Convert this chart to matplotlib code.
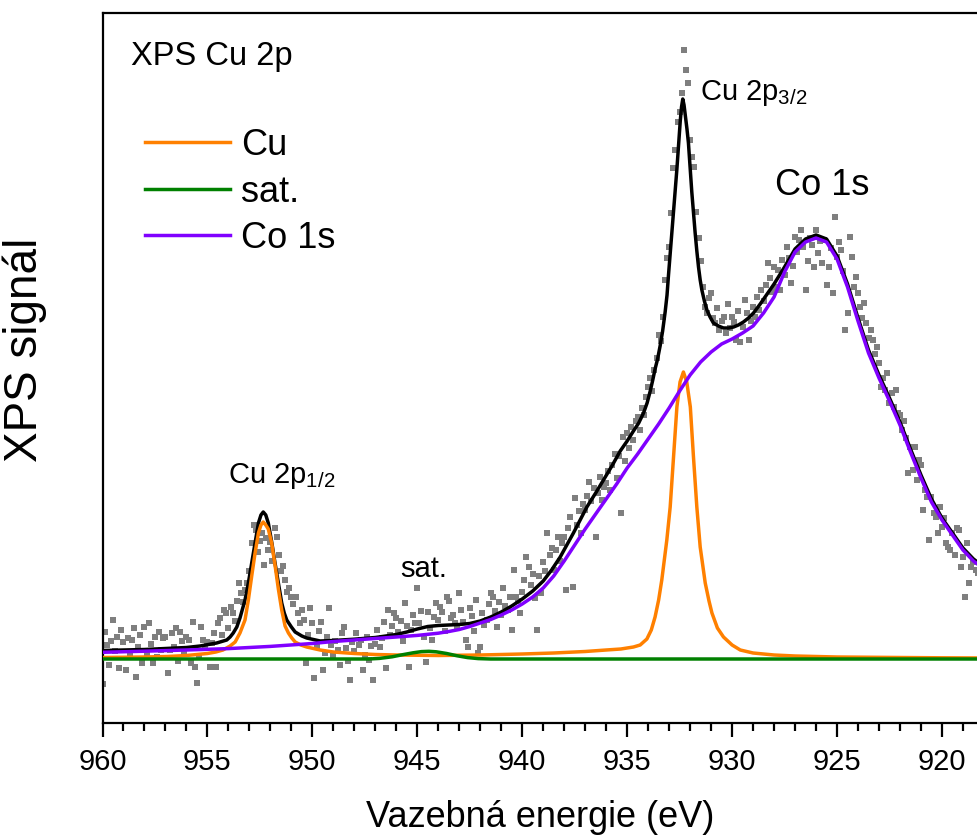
#!/usr/bin/env python3
"""
XPS Cu 2p spectrum with fitted components (Cu, sat., Co 1s) and envelope.
Saves out.png (977x838).
"""

import numpy as np
import matplotlib
matplotlib.use('Agg')
import matplotlib.pyplot as plt
from matplotlib.ticker import MultipleLocator

plt.rcParams['font.family'] = ['Liberation Sans', 'DejaVu Sans']
plt.rcParams['mathtext.fontset'] = 'custom'
plt.rcParams['mathtext.rm'] = 'Liberation Sans'
plt.rcParams['mathtext.it'] = 'Liberation Sans:italic'
plt.rcParams['mathtext.default'] = 'regular'

# ── measured points: 0.1 eV step, from 960.0 eV downwards ─────────────
E_START = 960.0
E_STEP = 0.1
counts = [
    -25, 27, 14, -6, 18, 39, 8, 22, -9, 29,            # 960
    17, -11, 21, 3, 19, 31, -18, 12, 24, -4,            # 959
    32, 6, 36, 15, -4, 22, 2, 27, 9, 21,                # 958
    22, -14, 9, 26, 12, 31, -2, 27, 18, 5,              # 957
    22, 19, -4, 37, -8, -24, 2, 32, 19, 12,             # 956
    17, -8, 16, 26, -8, 36, 41, 24, 49, 46,             # 955
    31, 52, 46, 38, 58, 76, 66, 57, 69, 76,             # 954
    88, 116, 134, 129, 107, 118, 126, 94, 121, 109,     # 953
    117, 98, 131, 122, 104, 88, 93, 79, 67, 71,         # 952
    62, 55, 62, 46, 36, 49, 39, -4, 24, 51,             # 951
    36, -19, 12, 28, 37, -11, 6, 22, 51, 14,            # 950
    3, 18, 9, -6, 26, 32, 11, -2, -21, 17,              # 949
    8, 26, 14, 19, -11, 4, 22, -1, 13, -21,             # 948
    15, 29, 12, 21, 37, -9, 49, 24, 33, 46,             # 947
    41, 27, 38, 18, 56, 33, -8, 29, 44, 36,             # 946
    71, 36, 48, 22, -3, 47, 31, 19, 42, 56,             # 945
    39, 52, 47, 28, 62, 58, 41, 44, 36, 32,             # 944
    66, 49, 37, 19, 12, 51, 43, 28, 59, 6,              # 943
    12, 46, 34, 39, 55, 66, 62, 48, 32, 57,             # 942
    44, 71, 53, 49, 62, 29, 89, 62, 58, 46,             # 941
    67, 79, 102, 92, 74, 85, 61, 29, 83, 66,            # 940
    97, 88, 126, 104, 111, 89, 109, 122, 98, 116,       # 939
    122, 69, 131, 142, 72, 161, 134, 148, 126, 155,     # 938
    149, 163, 177, 158, 171, 122, 166, 182, 159, 172,   # 937
    176, 188, 169, 194, 205, 181, 203, 146, 222, 198,   # 936
    226, 211, 232, 219, 238, 242, 229, 251, 244, 262,   # 935
    272, 281, 268, 289, 301, 324, 318, 342, 379, 401,   # 934
    412, 446, 491, 509, 537, 547, 566, 609, 589, 576,   # 933
    519, 502, 492, 447, 421, 398, 372, 352, 346, 361,   # 932
    366, 341, 336, 351, 329, 338, 342, 326, 355, 331,   # 931
    342, 337, 319, 348, 317, 332, 359, 346, 319, 338,   # 930
    352, 342, 362, 349, 369, 358, 374, 396, 381, 367,   # 929
    392, 372, 389, 369, 399, 384, 412, 401, 376, 393,   # 928
    422, 407, 419, 429, 412, 369, 398, 421, 414, 392,   # 927
    429, 406, 418, 396, 419, 374, 392, 411, 366, 442,   # 926
    402, 417, 409, 388, 329, 346, 422, 402, 372, 382,   # 925
    366, 352, 341, 356, 336, 321, 329, 319, 305, 312,   # 924
    296, 272, 281, 269, 286, 256, 266, 252, 269, 246,   # 923
    244, 229, 238, 221, 186, 212, 189, 212, 179, 199,   # 922
    194, 149, 169, 162, 119, 162, 146, 142, 126, 152,   # 921
    132, 141, 116, 112, 109, 126, 104, 131, 129, 92,    # 920
    102, 62, 116, 76, 92, 97, 89, 86,                   # 919
]
energy = E_START - E_STEP * np.arange(len(counts))

# ── fit: envelope (black) ─────────────────────────────────────────────
fit_x = [960, 958, 957, 956, 955.35, 954.56, 954.08, 953.92, 953.77, 953.6,
         953.45, 953.21, 953.05, 952.89, 952.73, 952.57, 952.45, 952.34, 952.22, 952.1,
         951.93, 951.78, 951.62, 951.46, 951.34, 951.22, 951.0, 950.82, 950.5, 950.27,
         949.63, 949, 948, 947, 946.5, 946, 945.5, 945, 944.5, 944,
         943.5, 943, 942.5, 942, 941.5, 941, 940.5, 940, 939.5, 939,
         938.6, 938.19, 937.56, 936.92, 936.5, 936.13, 935.7, 935.33, 935.0, 934.7,
         934.45, 934.22, 934.05, 933.9, 933.78, 933.67, 933.55, 933.43, 933.31, 933.19,
         933.1, 933.03, 932.95, 932.87, 932.79, 932.71, 932.63, 932.55, 932.47, 932.41,
         932.35, 932.29, 932.22, 932.15, 932.08, 932.0, 931.92, 931.84, 931.76, 931.68,
         931.6, 931.52, 931.44, 931.32, 931.2, 931.05, 930.89, 930.65, 930.41, 930.17,
         929.93, 929.7, 929.46, 929.22, 928.98, 928.66, 928.3, 928, 927.5, 927,
         926.5, 926, 925.5, 925, 924.5, 924, 923.5, 923, 922.5, 922,
         921.5, 921, 920.5, 920, 919.5, 919, 918.5, 918]
fit_y = [8.5, 9.5, 10.5, 11.5, 13, 16, 19, 22, 26, 32,
         41, 59, 76, 96, 116, 136, 144, 147, 144, 136,
         116, 96, 76, 56, 46, 39, 32, 27, 23, 21,
         18, 18.5, 19.8, 21.5, 23, 24.5, 27, 30, 32.5, 33.5,
         34, 34.5, 35.5, 38, 42, 47, 53, 60, 68, 78,
         89, 102, 126, 152, 166, 179, 194, 208, 218, 228,
         236, 246, 256, 268, 279, 290, 300, 313, 328, 347,
         364, 384, 405, 426, 446, 467, 490, 514, 538, 552,
         560, 554, 542, 530, 516, 492, 467, 446, 426, 408,
         392, 379, 369, 358, 349, 342, 336, 333, 331, 331,
         332, 334, 337, 341, 346, 355, 366, 375, 392, 410,
         420, 424, 420, 403, 375, 341, 309, 284, 261, 237,
         210, 184, 160, 141, 126, 111, 100, 92]

# ── fit: Cu 2p1/2 and 2p3/2 (orange) ──────────────────────────────────
cu_x = [960, 958, 956.9, 956, 955.5, 955, 954.6, 954.26, 953.92, 953.68,
        953.45, 953.21, 953.05, 952.89, 952.73, 952.57, 952.45, 952.34, 952.22, 952.1,
        951.94, 951.78, 951.62, 951.46, 951.3, 951.14, 950.98, 950.82, 950.55, 950.27,
        949.63, 949, 948, 947, 946, 944, 942, 940, 938.5, 937,
        936, 935.3, 934.7, 934.38, 934.06, 933.85, 933.67, 933.5, 933.35, 933.11,
        932.95, 932.79, 932.63, 932.48, 932.32, 932.16, 931.99, 931.84, 931.68, 931.52,
        931.28, 931.1, 930.96, 930.7, 930.41, 930.0, 929.61, 929, 928, 927,
        925, 922, 920, 918]
cu_y = [1.5, 2, 2.5, 3.5, 4.5, 5.5, 7, 9, 13, 17,
        26, 39, 59, 83, 106, 126, 134, 137, 134, 130,
        116, 94, 70, 49, 33, 26, 21, 17, 14, 12,
        9, 7, 5.5, 4.5, 4, 3.5, 4, 5, 6, 7.5,
        9, 10, 12, 14, 20, 29, 42, 59, 79, 119,
        152, 202, 252, 277, 287, 277, 252, 202, 152, 112,
        76, 58, 46, 31, 22, 14, 9, 6, 4, 3,
        2, 1.5, 1.2, 1]

# ── fit: satellite (green) ────────────────────────────────────────────
sat_x = [960, 947.3, 946.8, 946.2, 945.7, 945.2, 944.8, 944.45, 944.1, 943.6,
         943.1, 942.6, 942.1, 941.5, 918]
sat_y = [0, 0, 0.6, 2.2, 4.3, 6.2, 7.4, 7.7, 7.2, 5.5,
         3.2, 1.4, 0.4, 0, 0]

# ── fit: Co 1s incl. background (purple) ──────────────────────────────
co_x = [960, 958, 956, 954, 952, 950, 949, 948, 947, 946,
        945, 944, 943.5, 943, 942.5, 942, 941.5, 941, 940.5, 940,
        939.5, 939, 938.5, 938, 937.5, 937, 936.5, 936, 935.5, 935,
        934.5, 934, 933.5, 933, 932.5, 932, 931.5, 931, 930.5, 930,
        929.5, 929, 928.5, 928, 927.5, 927, 926.5, 926, 925.5, 925,
        924.5, 924, 923.5, 923, 922.5, 922, 921.5, 921, 920.5, 920,
        919.5, 919, 918.5, 918]
co_y = [6.7, 7.8, 9, 10.4, 12.6, 15.5, 17.5, 19, 20.5, 22,
        23.6, 25.8, 27.5, 29.5, 32.5, 36, 39.5, 44, 49, 55,
        62, 71, 83, 98, 114, 130, 145, 160, 175, 191,
        205, 220, 235, 251, 268, 284, 297, 307, 315, 320,
        326, 333, 346, 362, 387, 407, 417, 421, 417, 400,
        372, 338, 306, 281, 258, 234, 207, 181, 157, 139,
        124, 109, 98, 90]

# ── figure ────────────────────────────────────────────────────────────
fig = plt.figure(figsize=(9.77, 8.38), dpi=100)
ax = fig.add_axes([102.5 / 977, 1 - 723 / 838, 1 - 102.5 / 977, (723 - 13) / 838])

ax.scatter(energy, counts, marker='s', s=14, color='#7f7f7f', linewidths=0, zorder=1)
ax.plot(fit_x, fit_y, color='black', lw=2.5, zorder=2)
ax.plot(cu_x, cu_y, color='#ff8000', lw=2.5, zorder=3, label='Cu')
ax.plot(sat_x, sat_y, color='#008000', lw=2.5, zorder=4, label='sat.')
ax.plot(co_x, co_y, color='#8000ff', lw=2.5, zorder=5, label='Co 1s')

ax.set_xlim(960, 918.33)
ax.set_ylim(-64, 646)

for side in ['left', 'bottom', 'top']:
    ax.spines[side].set_linewidth(1.6)
ax.spines['right'].set_visible(False)

ax.xaxis.set_major_locator(MultipleLocator(5))
ax.xaxis.set_minor_locator(MultipleLocator(1))
ax.tick_params(axis='x', which='major', direction='out', length=10, width=1.6,
               pad=8, labelsize=21)
ax.tick_params(axis='x', which='minor', direction='out', length=6, width=1.6)
ax.set_yticks([])

# legend
ax.legend(loc='upper left', bbox_to_anchor=(145 / 977, 1 - 128 / 838),
          bbox_transform=fig.transFigure, frameon=False, fontsize=26,
          handlelength=2.35, handletextpad=0.3, labelspacing=0.32,
          borderpad=0, borderaxespad=0)

# annotations
ax.text(958.64, 594, 'XPS Cu 2p', fontsize=23.5)
ax.text(931.52, 559, 'Cu 2p$_{3/2}$', fontsize=21)
ax.text(927.95, 464, 'Co 1s', fontsize=26)
ax.text(954.02, 176, 'Cu 2p$_{1/2}$', fontsize=21)
ax.text(945.82, 82, 'sat.', fontsize=21)

ax.set_xlabel('Vazebná energie (eV)', fontsize=26)
ax.xaxis.set_label_coords(0.5, -0.108)
ax.set_ylabel('XPS signál', fontsize=33)
ax.yaxis.set_label_coords(-0.064, 0.525)

fig.savefig('out.png', dpi=100)
plt.close(fig)
